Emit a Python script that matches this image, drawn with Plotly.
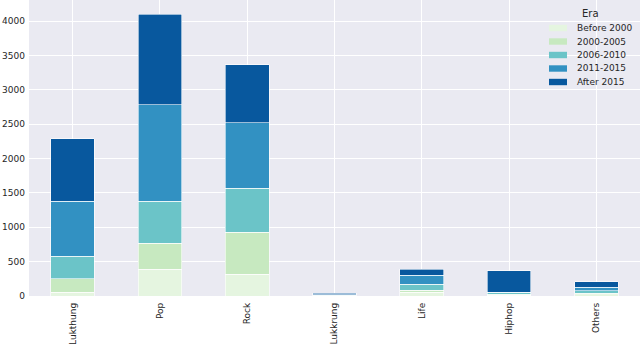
import plotly.graph_objects as go

categories = ["Lukthung", "Pop", "Rock", "Lukkrung", "Life", "Hiphop", "Others"]
eras = ["Before 2000", "2000-2005", "2006-2010", "2011-2015", "After 2015"]
before_2000 = [58, 391, 319, 2, 54, 10, 15]
y2000_2005 = [192, 377, 608, 3, 33, 15, 24]
y2006_2010 = [330, 609, 638, 5, 87, 20, 38]
y2011_2015 = [800, 1405, 956, 10, 130, 10, 53]
after_2015 = [905, 1320, 841, 20, 83, 313, 77]
series = [before_2000, y2000_2005, y2006_2010, y2011_2015, after_2015]
colors = ["#e5f5e0", "#c7e9c0", "#6bc4c8", "#3291c2", "#08589e"]
y_ticks = [0, 500, 1000, 1500, 2000, 2500, 3000, 3500, 4000]

W, H = 640, 346
ML, MR, MT, MB = 29, 0, 0, 50
PW, PH = W - ML - MR, H - MT - MB

def px(x):
    return (x - ML) / PW

def py(y):
    return 1 - (y - MT) / PH

fig = go.Figure()
for name, vals, col in zip(eras, series, colors):
    fig.add_trace(go.Bar(
        x=list(range(len(categories))), y=vals, name=name,
        marker=dict(color=col, line=dict(color="white", width=0.6)),
        showlegend=False,
    ))

font_col = "#262626"
fig.update_layout(
    width=W, height=H, autosize=False,
    barmode="stack", bargap=0.5,
    paper_bgcolor="white", plot_bgcolor="#eaeaf2",
    margin=dict(l=ML, r=MR, t=MT, b=MB, pad=0),
    font=dict(family="DejaVu Sans", size=9, color=font_col),
    xaxis=dict(
        tickmode="array", tickvals=list(range(len(categories))), ticktext=categories,
        tickangle=-90, range=[-0.5, 6.5], showgrid=True, gridcolor="white",
        gridwidth=1, zeroline=False, ticks="", showline=False, automargin=False,
        ticklabelstandoff=4,
    ),
    yaxis=dict(
        tickmode="array", tickvals=y_ticks, range=[0, 4306],
        showgrid=True, gridcolor="white", gridwidth=1, zeroline=False,
        ticks="", showline=False, automargin=False, ticklabelstandoff=3,
    ),
    showlegend=False,
)

# Legend (drawn in paper coordinates)
shapes = []
annotations = [dict(
    text="Era", x=px(590), y=py(13), xref="paper", yref="paper",
    xanchor="center", yanchor="middle", showarrow=False,
    font=dict(size=10, color=font_col),
)]
row_y = [28, 41.5, 55, 68.5, 82]
for name, col, ry in zip(eras, colors, row_y):
    shapes.append(dict(
        type="rect", xref="paper", yref="paper",
        x0=px(549), x1=px(567), y0=py(ry - 3.2), y1=py(ry + 3.2),
        fillcolor=col, line=dict(width=0),
    ))
    annotations.append(dict(
        text=name, x=px(575), y=py(ry), xref="paper", yref="paper",
        xanchor="left", yanchor="middle", showarrow=False,
        font=dict(size=9, color=font_col),
    ))
fig.update_layout(shapes=shapes, annotations=annotations)

fig.write_html(
    "out.html",
    config={"displayModeBar": False},
    post_script="document.body.style.margin='0';document.body.style.padding='0';",
)
